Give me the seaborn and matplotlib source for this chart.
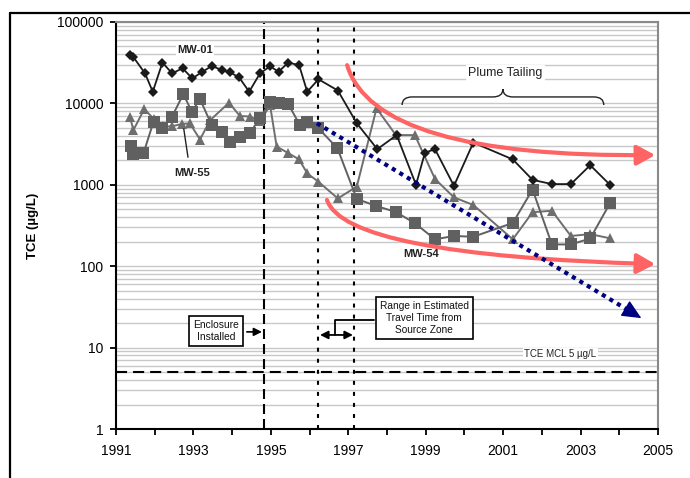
import matplotlib
matplotlib.use("Agg")
import matplotlib.pyplot as plt
import matplotlib.ticker as mticker
from matplotlib.path import Path
from matplotlib.patches import FancyArrowPatch, PathPatch
from matplotlib.lines import Line2D
import pandas as pd
import seaborn as sns

# ---------------- data ----------------
mw01_year = [1991.36, 1991.45, 1991.75, 1991.95, 1992.2, 1992.45, 1992.72, 1992.97, 1993.21, 1993.47,
             1993.73, 1993.95, 1994.18, 1994.44, 1994.72, 1994.98, 1995.2, 1995.45, 1995.73, 1995.94,
             1996.23, 1996.73, 1997.22, 1997.75, 1998.25, 1998.75, 1998.98, 1999.24, 1999.73, 2000.23,
             2001.25, 2001.76, 2002.26, 2002.75, 2003.25, 2003.76]
mw01_tce = [39000, 37000, 23400, 13900, 31700, 23400, 27000, 20300, 24000, 28800,
            25800, 24000, 20900, 13900, 23400, 28500, 24500, 31700, 29500, 13900,
            19800, 14400, 5700, 2740, 4080, 1000, 2480, 2740, 970, 3300,
            2050, 1150, 1020, 1020, 1740, 1000]

mw55_year = [1991.38, 1991.45, 1991.71, 1991.97, 1992.2, 1992.44, 1992.74, 1992.96, 1993.17, 1993.47,
             1993.73, 1993.95, 1994.2, 1994.46, 1994.72, 1994.98, 1995.2, 1995.45, 1995.75, 1995.93,
             1996.23, 1996.72, 1997.22, 1997.72, 1998.23, 1998.73, 1999.24, 1999.73, 2000.23, 2001.25,
             2001.76, 2002.26, 2002.75, 2003.25, 2003.76]
mw55_tce = [3000, 2390, 2440, 5960, 4940, 6760, 13000, 7900, 11300, 5430,
            4490, 3390, 3900, 4370, 6560, 10500, 10000, 9800, 5430, 5960,
            4940, 2810, 670, 550, 463, 335, 214, 235, 230, 340,
            875, 185, 185, 219, 593]

mw54_year = [1991.36, 1991.45, 1991.73, 1991.97, 1992.22, 1992.44, 1992.7, 1992.91, 1993.17, 1993.43,
             1993.92, 1994.2, 1994.46, 1994.72, 1994.98, 1995.15, 1995.45, 1995.73, 1995.94, 1996.23,
             1996.73, 1997.22, 1997.73, 1998.23, 1998.72, 1999.24, 1999.73, 2000.23, 2001.25, 2001.76,
             2002.26, 2002.75, 2003.25, 2003.76]
mw54_tce = [6870, 4700, 8500, 6500, 5220, 5220, 5600, 5680, 3600, 6200,
            10200, 7000, 6900, 6000, 9500, 2950, 2450, 2050, 1380, 1090,
            680, 950, 8700, 4080, 4080, 1180, 700, 565, 214, 460,
            480, 235, 248, 220]

x_ticks = [1991, 1993, 1995, 1997, 1999, 2001, 2003, 2005]
y_ticks = [1, 10, 100, 1000, 10000, 100000]

enclosure_year = 1994.82
travel_years = [1996.22, 1997.15]
mcl_value = 5

# trend annotation geometry (year, TCE)
navy_start = (1996.19, 5700)
navy_head_base = (2004.17, 30)
navy_tip = (2004.57, 23)
upper_curve = [(1996.97, 29500), (1997.69, 2135), (2004.93, 2320)]
lower_curve = [(1996.45, 651), (1996.92, 137), (2004.93, 106)]

# ---------------- figure ----------------
sns.set_theme(style="white")
plt.rcParams['font.family'] = ['Liberation Sans', 'DejaVu Sans']

fig = plt.figure(figsize=(6.9, 4.78), dpi=100)
ax = fig.add_axes([0.1681, 0.1025, 0.7855, 0.8515])
ax.set_yscale('log')

# reference lines
ax.axvline(enclosure_year, color='black', lw=1.5, linestyle=(0, (4.8, 2.4)), zorder=2)
for yr in travel_years:
    ax.axvline(yr, color='black', lw=1.5, linestyle=(0, (1.9, 3.4)), zorder=2)
ax.axhline(mcl_value, color='black', lw=1.5, linestyle=(0, (5.3, 2.9)), zorder=2)

# series
sns.lineplot(x=mw54_year, y=mw54_tce, ax=ax, color='#6e6e6e', marker='^', markersize=7.5,
             markeredgewidth=0, lw=1.4, estimator=None, sort=False, zorder=3)
sns.lineplot(x=mw55_year, y=mw55_tce, ax=ax, color='#606060', marker='s', markersize=8,
             markeredgewidth=0, lw=1.4, estimator=None, sort=False, zorder=4)
sns.lineplot(x=mw01_year, y=mw01_tce, ax=ax, color='#1a1a1a', marker='D', markersize=5,
             markeredgewidth=0, lw=1.3, estimator=None, sort=False, zorder=5)

ax.set_xlim(1991, 2005)
ax.set_ylim(1, 100000)

# grid
ax.yaxis.set_major_locator(mticker.FixedLocator(y_ticks))
ax.yaxis.set_minor_locator(mticker.LogLocator(base=10, subs=[2, 3, 4, 5, 6, 7, 8, 9]))
ax.yaxis.set_major_formatter(mticker.FuncFormatter(lambda v, p: f"{v:.0f}"))
ax.yaxis.set_minor_formatter(mticker.NullFormatter())
ax.grid(False)
ax.yaxis.grid(True, which='both', color='#c8c8c8', lw=1.0, zorder=0)
ax.set_axisbelow(True)

ax.xaxis.set_major_locator(mticker.FixedLocator(x_ticks))
ax.xaxis.set_minor_locator(mticker.MultipleLocator(1))
ax.xaxis.set_major_formatter(mticker.FuncFormatter(lambda v, p: f"{v:.0f}"))

ax.tick_params(axis='x', which='both', bottom=True, direction='out', length=4, width=1.3,
               color='black', labelsize=10, pad=7, labelcolor='black')
ax.tick_params(axis='y', which='major', left=True, direction='out', length=4, width=1.3,
               color='black', labelsize=10, pad=5, labelcolor='black')
ax.tick_params(axis='y', which='minor', left=False, length=0)

for s in ['left', 'bottom']:
    ax.spines[s].set_color('black')
    ax.spines[s].set_linewidth(1.5)
for s in ['right', 'top']:
    ax.spines[s].set_color('#8a8a8a')
    ax.spines[s].set_linewidth(1.5)

ax.set_xlabel('')
ax.set_ylabel('TCE (µg/L)', fontsize=9.5, fontweight='bold', color='black')
ax.yaxis.set_label_coords(-0.142, 0.5)

# series labels
ax.text(1993.03, 45300, 'MW-01', ha='center', va='center', fontsize=8, fontweight='bold',
        color='#222222', zorder=6, bbox=dict(boxstyle='square,pad=0.1', fc='white', ec='none'))
ax.text(1992.96, 1408, 'MW-55', ha='center', va='center', fontsize=8, fontweight='bold',
        color='#222222', zorder=6)
ax.annotate('', xy=(1992.74, 5275), xytext=(1992.87, 2017),
            arrowprops=dict(arrowstyle='-', color='#222222', lw=1.0), zorder=6)
ax.text(1998.88, 141, 'MW-54', ha='center', va='center', fontsize=8, fontweight='bold',
        color='#222222', zorder=6, bbox=dict(boxstyle='square,pad=0.1', fc='white', ec='none'))

# plume tailing label + brace
ax.text(2001.06, 23400, 'Plume Tailing', ha='center', va='center', fontsize=9,
        color='#222222', zorder=6, bbox=dict(boxstyle='square,pad=0.15', fc='white', ec='none'))
bx0, bx1 = 1998.39, 2003.6
yb, ybar, ytip, r = 9550, 12000, 15000, 0.26
xm = (bx0 + bx1) / 2
verts = [(bx0, yb), (bx0, ybar), (bx0 + r, ybar), (xm - r, ybar), (xm, ybar), (xm, ytip),
         (xm, ybar), (xm + r, ybar), (bx1 - r, ybar), (bx1, ybar), (bx1, yb)]
codes = [Path.MOVETO, Path.CURVE3, Path.CURVE3, Path.LINETO, Path.CURVE3, Path.CURVE3,
         Path.CURVE3, Path.CURVE3, Path.LINETO, Path.CURVE3, Path.CURVE3]
ax.add_patch(PathPatch(Path(verts, codes), fill=False, ec='#222222', lw=1.0,
                       transform=ax.transData, zorder=6))

# boxes
box = dict(boxstyle='square,pad=0.38', fc='white', ec='black', lw=1.2)
ax.text(1993.58, 16.0, 'Enclosure\nInstalled', ha='center', va='center', fontsize=7.4,
        linespacing=1.3, bbox=box, zorder=7, color='#111111')
ax.annotate('', xy=(1994.77, 15.6), xytext=(1994.38, 15.6),
            arrowprops=dict(arrowstyle='-|>,head_length=0.4,head_width=0.2', color='black', lw=1.2,
                            shrinkA=0, shrinkB=0), zorder=7)
ax.text(1998.96, 23.1, 'Range in Estimated\nTravel Time from\nSource Zone', ha='center',
        va='center', fontsize=7.3, linespacing=1.3, bbox=box, zorder=7, color='#111111')
ax.plot([1997.67, 1996.66, 1996.66], [21.8, 21.8, 14.3], color='black', lw=1.3, zorder=7)
ax.annotate('', xy=(1997.12, 14.3), xytext=(1996.27, 14.3),
            arrowprops=dict(arrowstyle='<|-|>,head_length=0.4,head_width=0.2', color='black', lw=1.3,
                            shrinkA=0, shrinkB=0), zorder=7)
ax.text(2002.47, 8.35, 'TCE MCL 5 µg/L', ha='center', va='center', fontsize=7,
        color='#222222', zorder=6, bbox=dict(boxstyle='square,pad=0.15', fc='white', ec='none'))

# red tailing curves
for pts in (upper_curve, lower_curve):
    p = Path(pts, [Path.MOVETO, Path.CURVE3, Path.CURVE3])
    arr = FancyArrowPatch(path=p, arrowstyle='-|>,head_length=1.1,head_width=0.6',
                          mutation_scale=10, color='#ff6464', lw=3.0, transform=ax.transData,
                          zorder=8)
    ax.add_patch(arr)

# navy trend
ax.plot([navy_start[0], navy_head_base[0]], [navy_start[1], navy_head_base[1]], color='#000080',
        lw=3.0, linestyle=(0, (1.0, 1.1)), solid_capstyle='butt', dash_capstyle='butt', zorder=9)
ax.annotate('', xy=navy_tip, xytext=navy_head_base,
            arrowprops=dict(arrowstyle='-|>,head_length=1.2,head_width=0.55', color='#000080',
                            lw=1, shrinkA=0, shrinkB=0, mutation_scale=10), zorder=9)

# outer frame
fig.add_artist(Line2D([10 / 690, 10 / 690], [0, 1 - 13 / 478], color='black', lw=1.6,
                      transform=fig.transFigure))
fig.add_artist(Line2D([10 / 690, 1], [1 - 13 / 478, 1 - 13 / 478], color='black', lw=1.6,
                      transform=fig.transFigure))

fig.savefig('out.png', dpi=100)
